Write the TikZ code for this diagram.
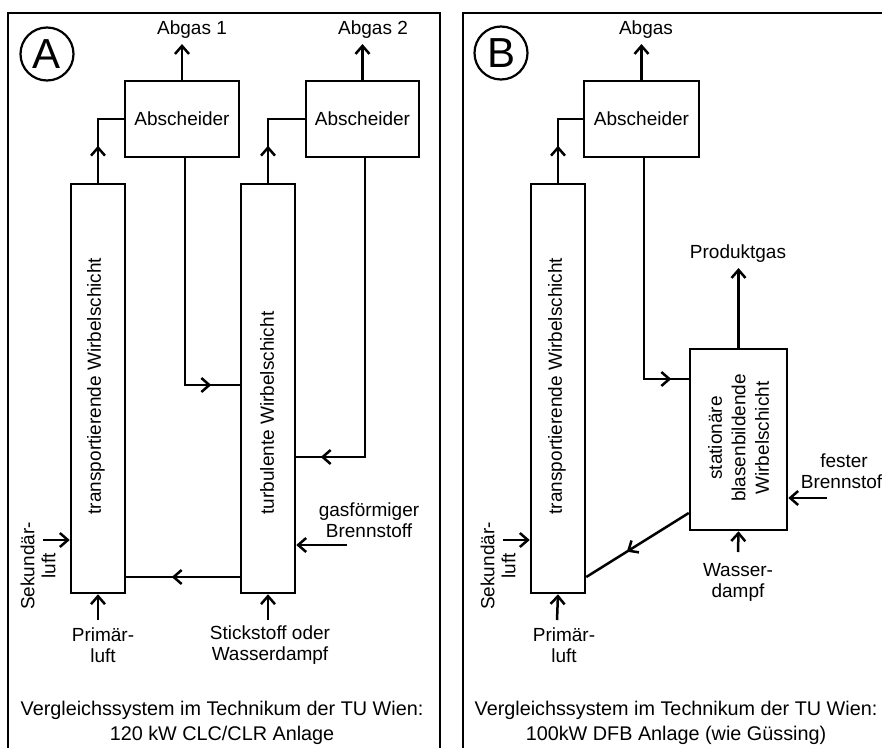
\documentclass[tikz,border=0pt]{standalone}
\usepackage{fontspec}
\setmainfont{Liberation Sans}
\usetikzlibrary{arrows.meta,decorations.markings}
\begin{document}
\begin{tikzpicture}[x=1pt,y=-1pt,
  >={Straight Barb[length=8pt,width=14pt]},
  ln/.style={line width=2.5pt},
  blk/.style={draw, line width=2.5pt, inner sep=0pt},
  lbl/.style={font=\fontsize{19}{21}\selectfont, align=center, inner sep=0pt},
  captxt/.style={lbl, font=\fontsize{19.8}{25}\selectfont},
  flow/.style={ln, ->},
  midarr/.style={ln, postaction={decorate}, decoration={markings, mark=at position #1 with {\arrow{>}}}},
  frm/.style={draw, line width=2.6pt},
  badge/.style={draw, circle, line width=2.2pt, minimum size=53pt, inner sep=0pt, font=\fontsize{42}{42}\selectfont},
]
\useasboundingbox (0,0) rectangle (882,747);
% frames
\draw[frm] (8,13) rectangle (440,775);
\draw[frm] (463,13) rectangle (905,775);

% ================= Panel A =================
\node[badge] (cA) at (47,54) {A};
\node[blk, lbl, minimum width=114pt, minimum height=76pt] (absA1) at (182,119) {Abscheider};
\node[blk, lbl, minimum width=113pt, minimum height=76pt] (absA2) at (362.5,119) {Abscheider};
\node[blk, minimum width=54pt, minimum height=409pt] (trA) at (98,388.5) {};
\node[lbl, rotate=90] (trAt) at (96,386) {transportierende Wirbelschicht};
\node[blk, minimum width=54pt, minimum height=409pt] (tuA) at (268,388.5) {};
\node[lbl, rotate=90] (tuAt) at (267,413) {turbulente Wirbelschicht};

\node[lbl] (abg1) at (192,30) {Abgas 1};
\node[lbl] (abg2) at (373,30) {Abgas 2};
\node[lbl, rotate=90] (sekA) at (38,566) {Sekundär-\\luft};
\node[lbl] (priA) at (103,645) {Primär-\\luft};
\node[lbl] (stiA) at (270,645) {Stickstoff oder\\Wasserdampf};
\node[lbl] (gasA) at (369,520) {gasförmiger\\Brennstoff};
\node[captxt] (capA) at (222,723) {Vergleichssystem im Technikum der TU Wien:\\120 kW CLC/CLR Anlage};

\coordinate (abg1e) at ([yshift=-5pt]abg1.south);
\coordinate (abg2e) at ([yshift=-5pt]abg2.south);
\coordinate (sekAs) at (43,540);
\coordinate (priAs) at (98,620);
\coordinate (stiAs) at (268,620);
\coordinate (gasAs) at (347,545);

\draw[midarr=37pt] (trA.north) |- (absA1.west);
\draw[midarr=37pt] (tuA.north) |- (absA2.west);
\draw[flow] (absA1.north) -- (absA1.north |- abg1e);
\draw[flow] (absA2.north) -- (absA2.north |- abg2e);
\draw[midarr=253pt] ([xshift=3pt]absA1.south) |- (tuA.west |- 0,385);
\draw[midarr=343pt] ([xshift=2.5pt]absA2.south) |- (tuA.east |- 0,457);
\draw[midarr=68pt] (tuA.west |- 0,577) -- (trA.east |- 0,577);
\draw[flow] (sekAs) -- (trA.west |- sekAs);
\draw[flow] (priAs) -- (trA.south);
\draw[flow] (stiAs) -- (tuA.south);
\draw[flow] (gasAs) -- (tuA.east |- gasAs);

% ================= Panel B =================
\node[badge] (cB) at (501,53) {B};
\node[blk, lbl, minimum width=115pt, minimum height=76pt] (absB) at (641.5,119) {Abscheider};
\node[blk, minimum width=54pt, minimum height=409pt] (trB) at (558,388.5) {};
\node[lbl, rotate=90] (trBt) at (557,386) {transportierende Wirbelschicht};
\node[blk, minimum width=97pt, minimum height=181pt] (stB) at (738.5,439.5) {};
\node[lbl, rotate=90, font=\fontsize{19}{23.5}\selectfont] (stBt) at (738.5,438) {stationäre\\blasenbildende\\Wirbelschicht};

\node[lbl] (abgB) at (646,30) {Abgas};
\node[lbl] (prod) at (738,254) {Produktgas};
\node[lbl] (fest) at (844,471) {fester\\Brennstoff};
\node[lbl] (wasB) at (738,582) {Wasser-\\dampf};
\node[lbl, rotate=90] (sekB) at (498,566) {Sekundär-\\luft};
\node[lbl] (priB) at (564,645) {Primär-\\luft};
\node[captxt] (capB) at (676,723) {Vergleichssystem im Technikum der TU Wien:\\100kW DFB Anlage (wie Güssing)};

\coordinate (abgBe) at ([yshift=-5pt]abgB.south);
\coordinate (prode) at ([yshift=-5pt]prod.south);
\coordinate (festS) at (827,498);
\coordinate (wasBs) at (738,552);
\coordinate (sekBs) at (503,540);
\coordinate (priBs) at (557,620);

\draw[midarr=37pt] (trB.north) |- (absB.west);
\draw[flow] (absB.north) -- (absB.north |- abgBe);
\draw[midarr=248pt] ([xshift=2.5pt]absB.south) |- (stB.west |- 0,379);
\draw[flow] (stB.north) -- (stB.north |- prode);
\draw[flow] (festS) -- (stB.east |- festS);
\draw[flow] (wasBs) -- (stB.south);
\draw[midarr=73pt] (stB.west |- 0,513) -- (trB.east |- 0,577);
\draw[flow] (sekBs) -- (trB.west |- sekBs);
\draw[flow] (priBs) -- (trB.south);
\end{tikzpicture}
\end{document}
